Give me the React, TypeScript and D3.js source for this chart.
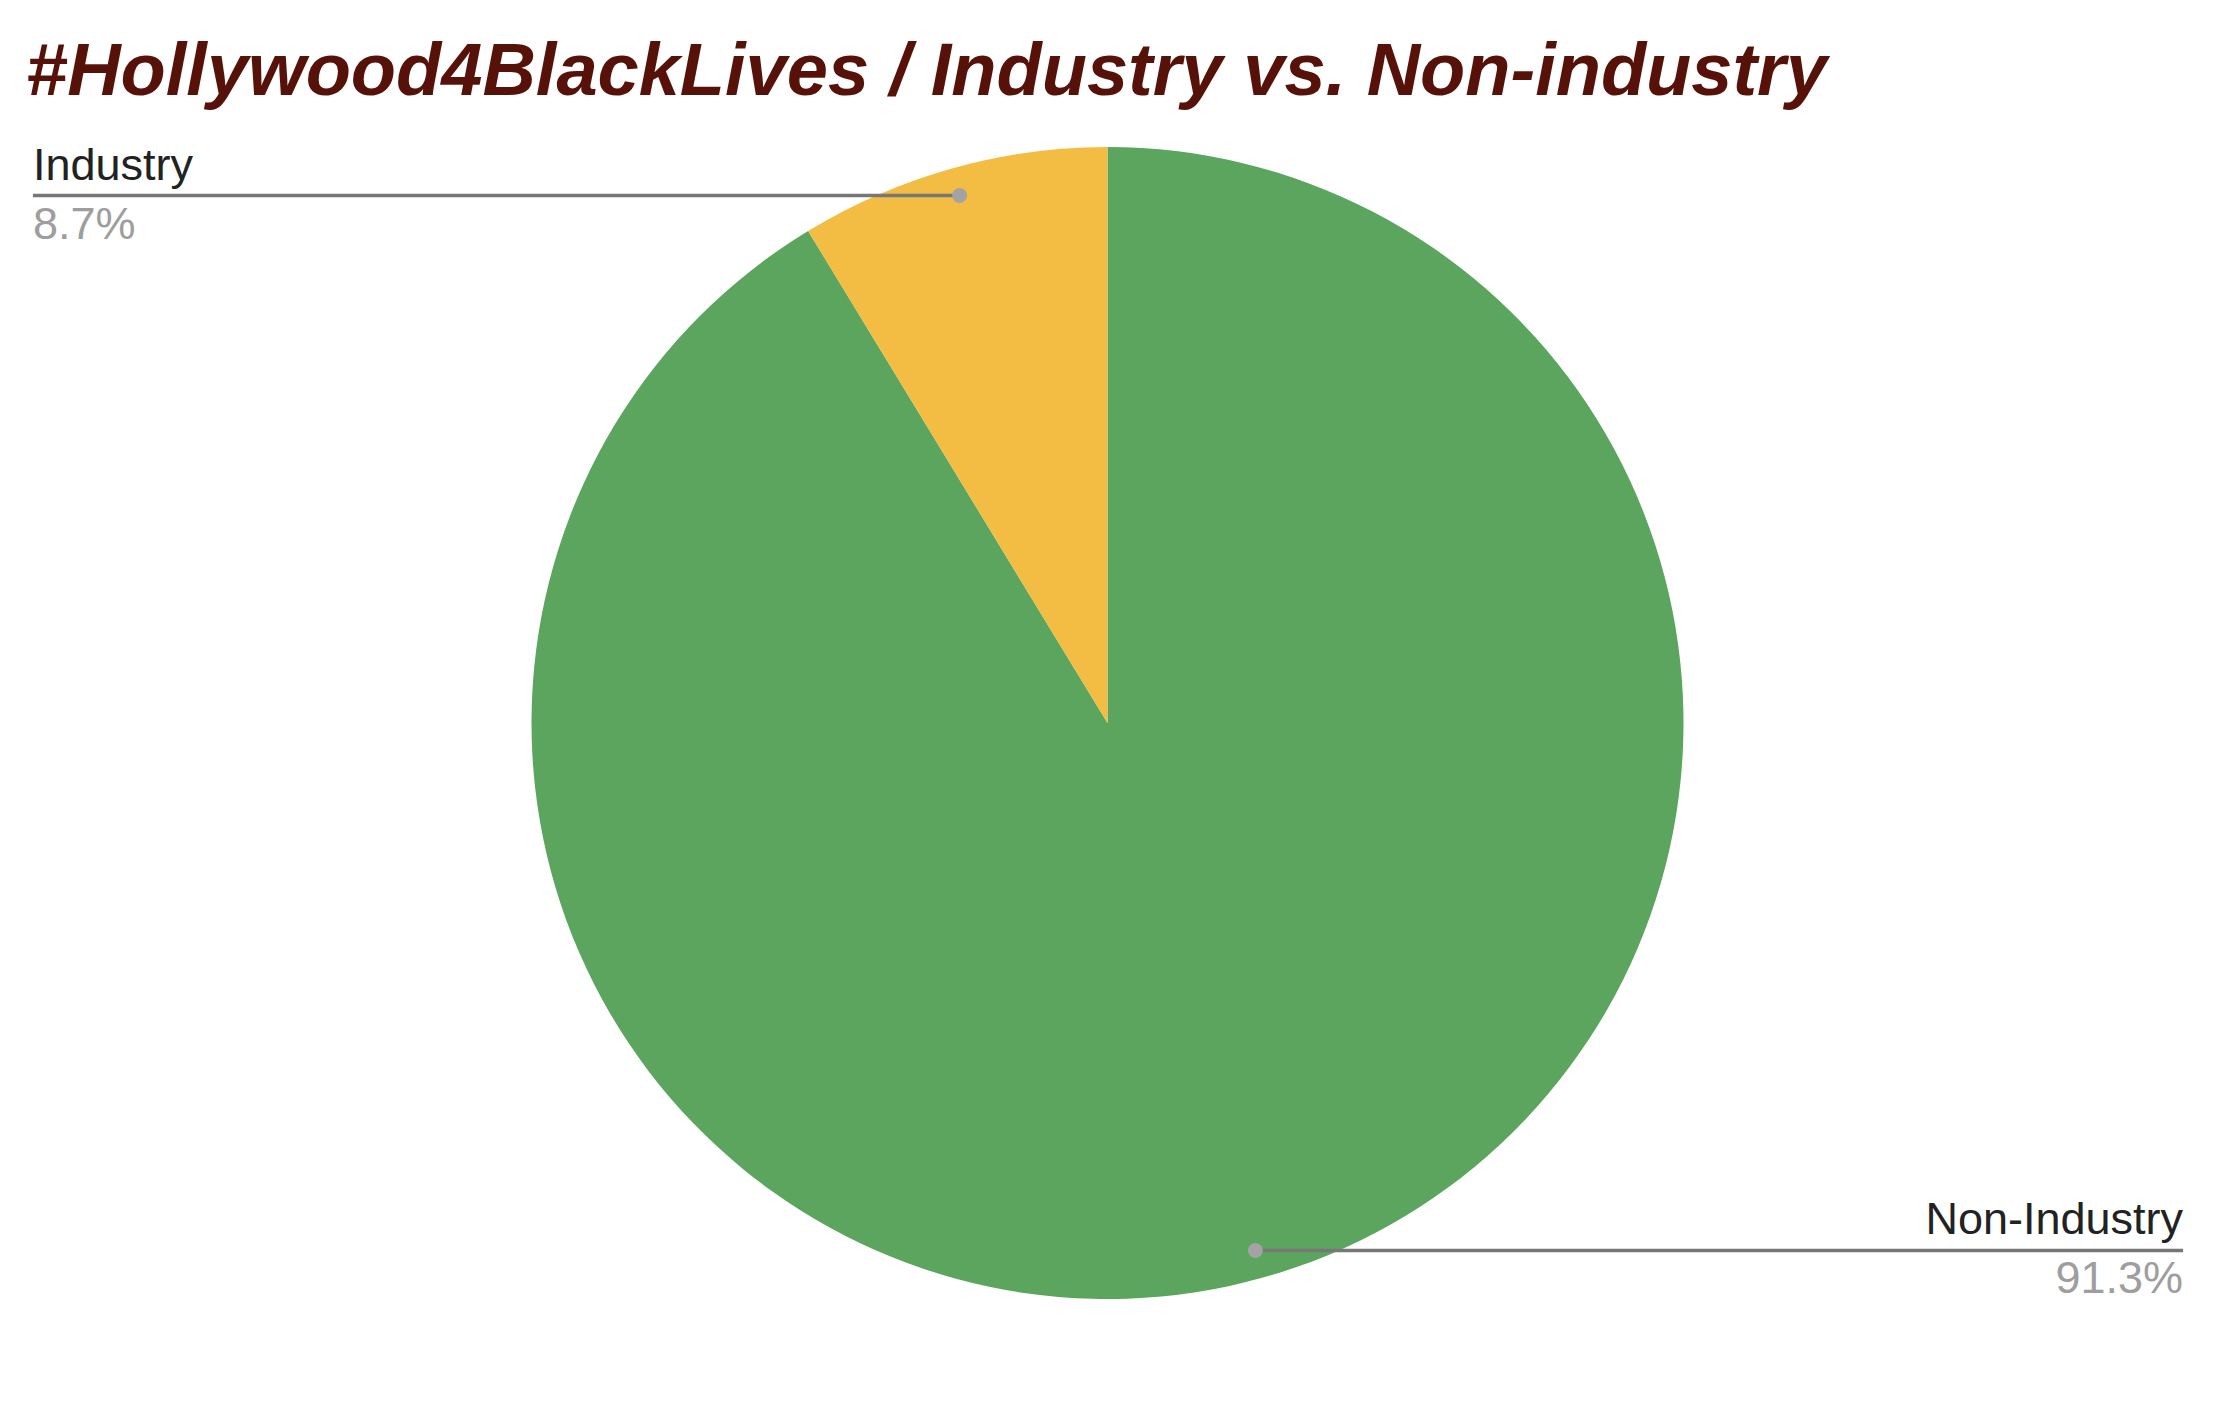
import React, { useEffect, useRef } from 'react';
import * as d3 from 'd3';

const title = '#Hollywood4BlackLives / Industry vs. Non-industry';
const categories = ['Non-Industry', 'Industry'];
const values = [91.3, 8.7];
const valueLabels = ['91.3%', '8.7%'];
const colors = ['#5ba55e', '#f2bd42'];

const W = 2227;
const H = 1402;

export default function App() {
  const svgRef = useRef<SVGSVGElement>(null);

  useEffect(() => {
    if (!svgRef.current) return;
    const svg = d3.select(svgRef.current);
    svg.selectAll('*').remove();

    svg.append('rect').attr('width', W).attr('height', H).attr('fill', '#ffffff');

    // title
    svg.append('text')
      .attr('x', 26)
      .attr('y', 95)
      .attr('font-family', '"Liberation Sans", Arial, sans-serif')
      .attr('font-weight', 'bold')
      .attr('font-style', 'italic')
      .attr('font-size', 74)
      .attr('fill', '#561208')
      .text(title);

    const cx = 1107.5;
    const cy = 723;
    const r = 576;

    const pie = d3.pie<number>().sort(null).value(d => d);
    const arcs = pie(values);
    const arc = d3.arc<d3.PieArcDatum<number>>().innerRadius(0).outerRadius(r);
    const labelArc = d3.arc<d3.PieArcDatum<number>>().innerRadius(r * 0.951).outerRadius(r * 0.951);

    const g = svg.append('g').attr('transform', `translate(${cx},${cy})`);

    g.selectAll('path.slice')
      .data(arcs)
      .join('path')
      .attr('class', 'slice')
      .attr('d', arc)
      .attr('fill', (_, i) => colors[i]);

    // leader lines + labels
    arcs.forEach((a, i) => {
      const [px, py] = labelArc.centroid(a);
      const mid = (a.startAngle + a.endAngle) / 2;
      const rightSide = Math.sin(mid) > 0;
      const endX = rightSide ? 2183 - cx : 33 - cx;

      g.append('line')
        .attr('x1', px)
        .attr('y1', py)
        .attr('x2', endX)
        .attr('y2', py)
        .attr('stroke', '#777777')
        .attr('stroke-width', 3.5);

      g.append('circle')
        .attr('cx', px)
        .attr('cy', py)
        .attr('r', 7.5)
        .attr('fill', '#a3a3a3');

      const anchor = rightSide ? 'end' : 'start';
      g.append('text')
        .attr('x', endX)
        .attr('y', py - 16)
        .attr('text-anchor', anchor)
        .attr('font-family', '"Liberation Sans", Arial, sans-serif')
        .attr('font-size', 45)
        .attr('fill', '#222222')
        .text(categories[i]);

      g.append('text')
        .attr('x', endX)
        .attr('y', py + 43)
        .attr('text-anchor', anchor)
        .attr('font-family', '"Liberation Sans", Arial, sans-serif')
        .attr('font-size', 45)
        .attr('fill', '#9e9e9e')
        .text(valueLabels[i]);
    });
  }, []);

  return (
    <svg
      ref={svgRef}
      width={W}
      height={H}
      style={{ position: 'absolute', left: 0, top: 0, display: 'block' }}
    />
  );
}
